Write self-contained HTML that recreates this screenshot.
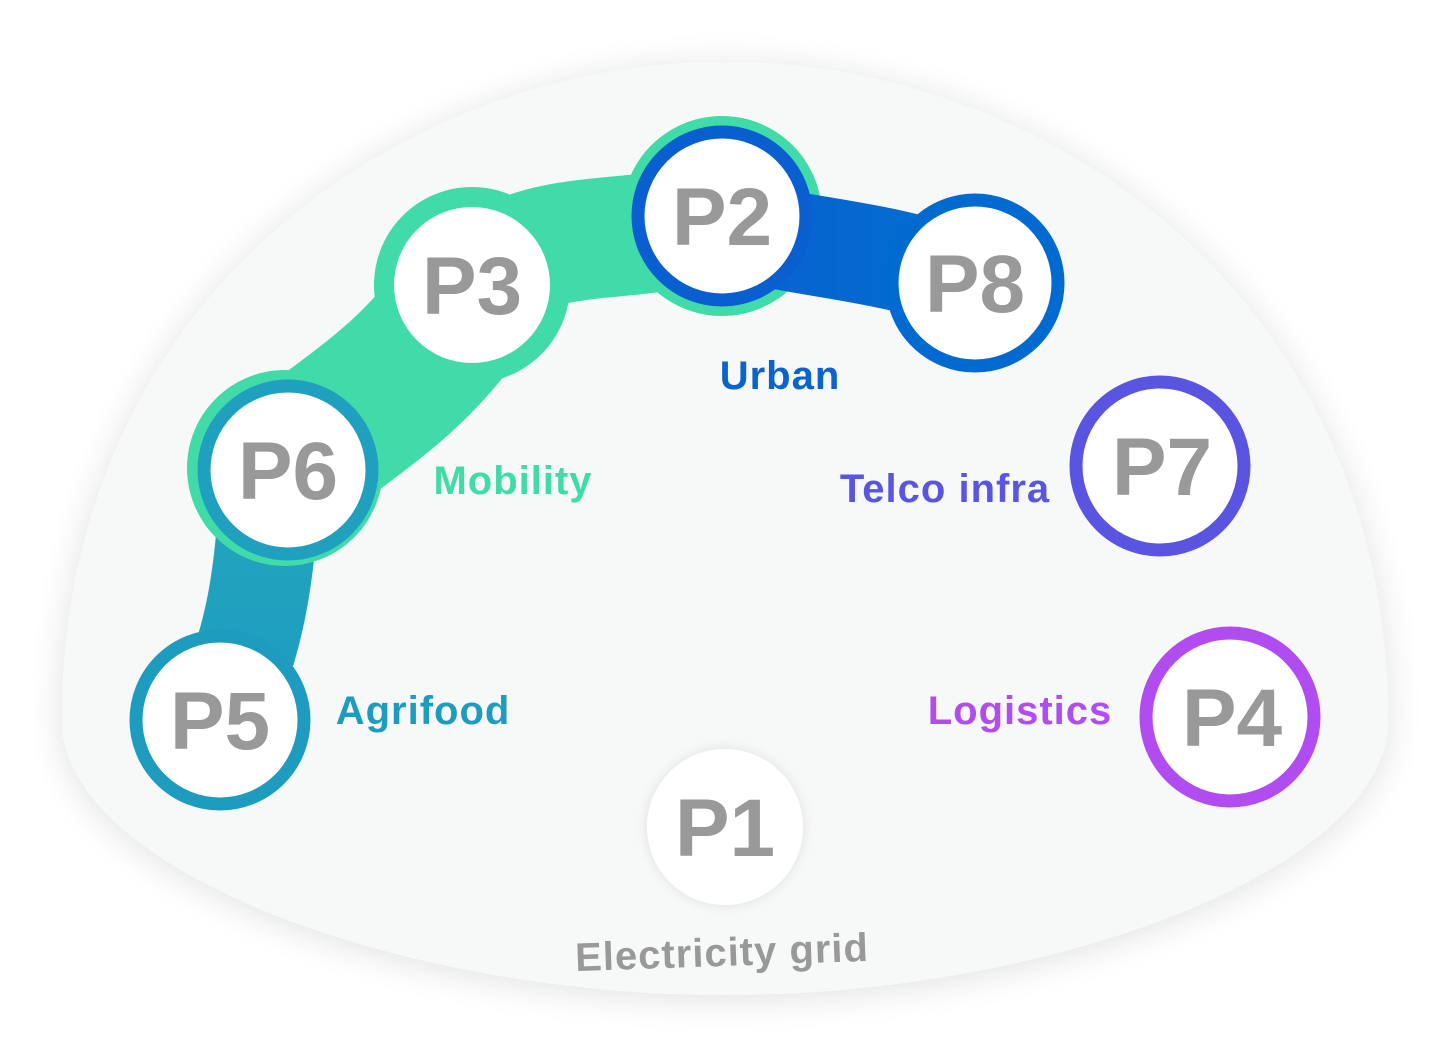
<!DOCTYPE html>
<html><head><meta charset="utf-8"><style>
html,body{margin:0;padding:0;background:#fff;}
svg{display:block;}
text{font-family:"Liberation Sans",sans-serif;font-weight:bold;}
</style></head><body>
<svg width="1450" height="1060" viewBox="0 0 1450 1060" xmlns="http://www.w3.org/2000/svg">
<defs>
<filter id="sh" x="-10%" y="-10%" width="120%" height="120%"><feGaussianBlur in="SourceAlpha" stdDeviation="18"/><feOffset dy="4"/><feComponentTransfer><feFuncA type="linear" slope="0.12"/></feComponentTransfer><feMerge><feMergeNode/><feMergeNode in="SourceGraphic"/></feMerge></filter>
<filter id="sh2" x="-30%" y="-30%" width="160%" height="160%"><feGaussianBlur in="SourceAlpha" stdDeviation="6"/><feComponentTransfer><feFuncA type="linear" slope="0.1"/></feComponentTransfer><feMerge><feMergeNode/><feMergeNode in="SourceGraphic"/></feMerge></filter>
<linearGradient id="bl" x1="0" x2="1"><stop offset="0" stop-color="#0a5fd0"/><stop offset="1" stop-color="#0070d0"/></linearGradient>
<linearGradient id="tl" x1="0" y1="0" x2="0" y2="1"><stop offset="0" stop-color="#23a6bd"/><stop offset="1" stop-color="#1d9cc0"/></linearGradient>
</defs>
<path d="M62 720 C62 300 400 62 725 62 C1050 62 1388 300 1388 720 C1388 870 1050 995 725 995 C400 995 62 870 62 720 Z" fill="#f7f8f8" filter="url(#sh)"/>

<!-- teal connector P6-P5 -->
<path d="M270 480 C265 580 255 640 220 720" stroke="url(#tl)" stroke-width="100" fill="none"/>
<!-- green chain -->
<path d="M290 465 C340 420 420 380 472 290" stroke="#40dba8" stroke-width="150" fill="none"/>
<path d="M472 285 C540 220 640 250 722 216" stroke="#40dba8" stroke-width="120" fill="none"/>
<circle cx="285" cy="468" r="98" fill="#40dba8"/>
<circle cx="472" cy="285" r="98" fill="#40dba8"/>
<circle cx="722" cy="216" r="100" fill="#40dba8"/>
<!-- blue connector -->
<path d="M722 228 C820 250 880 250 975 283" stroke="url(#bl)" stroke-width="100" fill="none"/>

<!-- rings -->
<circle cx="722" cy="216" r="84" fill="#fff" stroke="#0a5fd0" stroke-width="13"/>
<circle cx="975" cy="283" r="83" fill="#fff" stroke="#006ad0" stroke-width="13"/>
<circle cx="472" cy="285" r="78" fill="#fff"/>
<circle cx="288" cy="470" r="84" fill="#fff" stroke="#20a0bf" stroke-width="13"/>
<circle cx="220" cy="720" r="84" fill="#fff" stroke="#1d9cc0" stroke-width="13"/>
<circle cx="1160" cy="466" r="84" fill="#fff" stroke="#5a55e0" stroke-width="13"/>
<circle cx="1230" cy="717" r="84" fill="#fff" stroke="#b04cf0" stroke-width="13"/>
<circle cx="725" cy="827" r="78" fill="#fff" filter="url(#sh2)"/>

<g fill="#999" font-size="82" text-anchor="middle">
<text x="722" y="245">P2</text>
<text x="975" y="312">P8</text>
<text x="472" y="314">P3</text>
<text x="288" y="499">P6</text>
<text x="220" y="749">P5</text>
<text x="1162" y="495">P7</text>
<text x="1232" y="746">P4</text>
<text x="725" y="856">P1</text>
</g>
<g font-size="40" text-anchor="middle" letter-spacing="1">
<text x="780" y="389" fill="#0a64cc">Urban</text>
<text x="513" y="494" fill="#40dba8">Mobility</text>
<text x="945" y="502" fill="#5a55e0">Telco infra</text>
<text x="423" y="724" fill="#1d9cc0">Agrifood</text>
<text x="1020" y="724" fill="#b04cf0">Logistics</text>
<text x="722" y="966" fill="#999" transform="rotate(-2 722 952)">Electricity grid</text>
</g>
</svg>
</body></html>
